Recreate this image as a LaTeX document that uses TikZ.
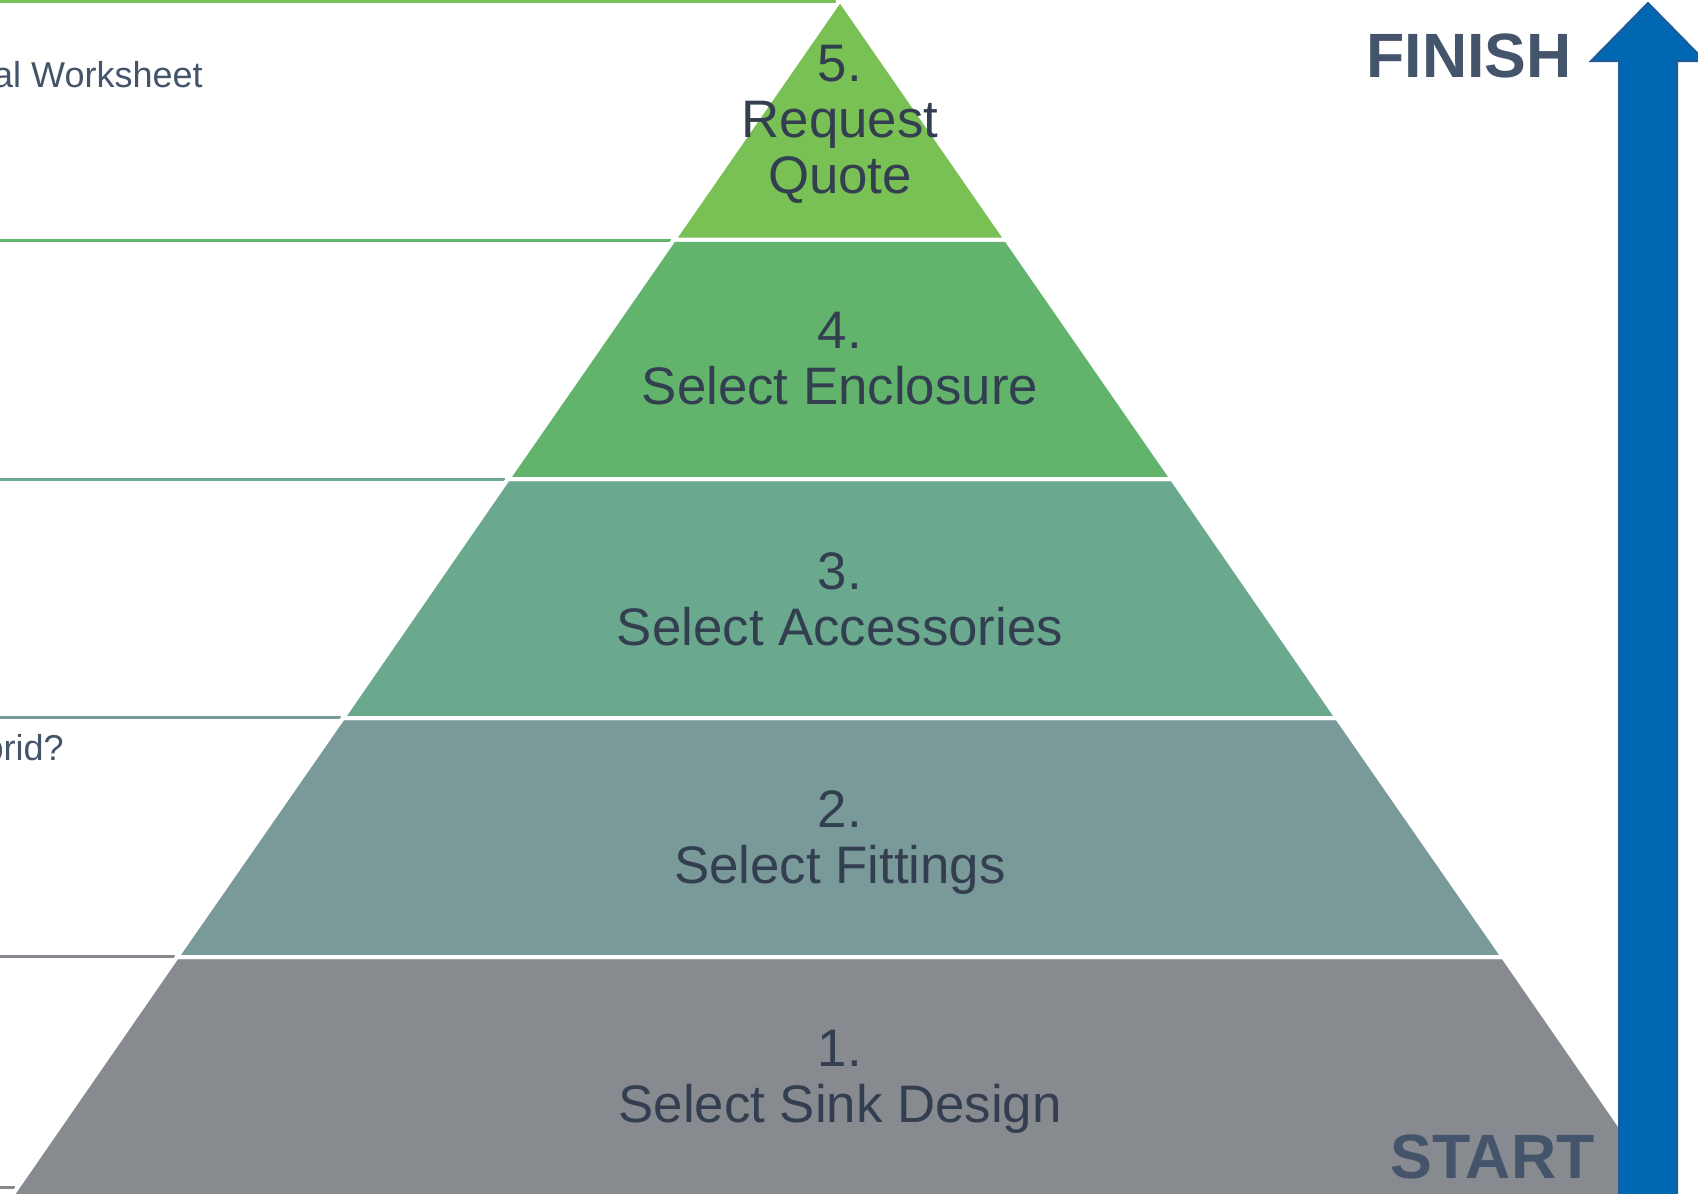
\documentclass[tikz,border=0pt]{standalone}
\usepackage{fontspec}
\setmainfont{Liberation Sans}
\definecolor{stepA}{HTML}{878A8F}
\definecolor{stepB}{HTML}{7A9A9A}
\definecolor{stepC}{HTML}{6BA98E}
\definecolor{stepD}{HTML}{62B46D}
\definecolor{stepE}{HTML}{79C154}
\definecolor{inkdark}{HTML}{333F50}
\definecolor{inkslate}{HTML}{44546A}
\definecolor{arrowblue}{HTML}{0067B3}
\definecolor{arrowedge}{HTML}{1F5C99}

\begin{document}
\begin{tikzpicture}[x=0.5pt,y=-0.5pt,
  band/.style={draw=white,line width=2pt},
  rowline/.style={line width=1.5pt},
  steptext/.style={inner sep=0,align=center,text=inkdark,font=\fontsize{26.4}{28}\selectfont},
  sidetext/.style={inner sep=0,text=inkslate,font=\fontsize{18}{20}\selectfont},
  endtext/.style={inner sep=0,text=inkslate,font=\fontsize{31.3}{33}\selectfont\bfseries}]
  \useasboundingbox (0,0) rectangle (1698,1194);
  % rows on the left
  \draw[rowline,stepE] (0,1) -- (836,1);
  \draw[rowline,stepD] (0,240) -- (671,240);
  \draw[rowline,stepC] (0,479) -- (505,479);
  \draw[rowline,stepB] (0,717) -- (341,717);
  \draw[rowline,stepA] (0,956) -- (175,956);
  \draw[rowline,stepA] (0,1187) -- (15,1187);
  \begin{scope}
    \clip (0,0) rectangle (1698,1194);
    \node[sidetext,anchor=base east] (ws) at (203,87) {al Worksheet};
    \node[sidetext,anchor=base east] (hy) at (64,760) {brid?};
  \end{scope}
  % pyramid, bottom to top
  \fill[stepA,band] (2,1210) -- (177,957) -- (1503,957) -- (1678,1210) -- cycle;
  \fill[stepB,band] (177,957) -- (343,718) -- (1337,718) -- (1503,957) -- cycle;
  \fill[stepC,band] (343,718) -- (508,479) -- (1172,479) -- (1337,718) -- cycle;
  \fill[stepD,band] (508,479) -- (674,239.5) -- (1006,239.5) -- (1172,479) -- cycle;
  \fill[stepE,band] (674,239.5) -- (840,0) -- (1006,239.5) -- cycle;
  \node[steptext] (S5) at (840,124) {5.\\Request\\Quote};
  \node[steptext] (S4) at (840,359) {4.\\Select Enclosure};
  \node[steptext] (S3) at (840,599) {3.\\Select Accessories};
  \node[steptext] (S2) at (840,843) {2.\\Select Fittings};
  \node[steptext] (S1) at (840,1082) {1.\\Select Sink Design};
  % progress arrow
  \draw[arrowedge,fill=arrowblue,line width=1pt] (1619,1200) -- (1619,61) -- (1591,61) -- (1648,3)
    -- (1705,61) -- (1677,61) -- (1677,1200) -- cycle;
  \node[endtext,anchor=base east] (finish) at (1572,77) {FINISH};
  \node[endtext,anchor=base east] (start) at (1595,1178) {START};
\end{tikzpicture}
\end{document}
